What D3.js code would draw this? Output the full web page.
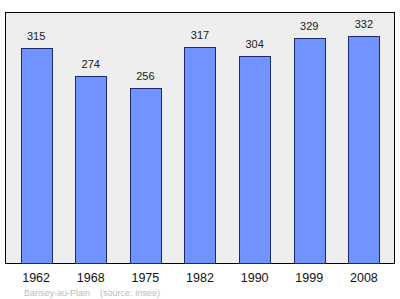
<!DOCTYPE html>
<html>
<head>
<meta charset="utf-8">
<script src="https://cdn.jsdelivr.net/npm/d3@7"></script>
<style>
  body { margin: 0; background: #fff; }
  text { font-family: "Liberation Sans", Arial, sans-serif; }
</style>
</head>
<body>
<div id="graphic"></div>
<script>
// population per census year
var years = ["1962", "1968", "1975", "1982", "1990", "1999", "2008"];
var population = [315, 274, 256, 317, 304, 329, 332];
var sourceText = "Barisey-au-Plain    (source: Insee)";

var width = 400, height = 299;
var plot = { left: 5.5, top: 12.5, right: 394.5, bottom: 263.5 };

var svg = d3.select("#graphic").append("svg")
  .attr("width", width)
  .attr("height", height);

// frame / background
svg.append("rect")
  .attr("x", plot.left)
  .attr("y", plot.top)
  .attr("width", plot.right - plot.left)
  .attr("height", plot.bottom - plot.top)
  .attr("fill", "#eeeeee")
  .attr("stroke", "#000")
  .attr("stroke-width", 1);

var x = d3.scaleBand()
  .domain(years)
  .range([plot.left + 3, plot.right - 3])
  .paddingInner(0.43)
  .paddingOuter(0.22);

var y = d3.scaleLinear()
  .domain([0, 367])
  .range([plot.bottom, plot.top]);

svg.selectAll(".bar")
  .data(population)
  .enter().append("rect")
  .attr("class", "bar")
  .attr("x", function (d, i) { return Math.round(x(years[i])) + 0.5; })
  .attr("y", function (d) { return Math.round(y(d)) + 0.5; })
  .attr("width", Math.round(x.bandwidth()))
  .attr("height", function (d) { return plot.bottom - Math.round(y(d)) - 0.5; })
  .attr("fill", "#7093ff")
  .attr("stroke", "#1a2a6a")
  .attr("stroke-width", 1);

// value labels
svg.selectAll(".val")
  .data(population)
  .enter().append("text")
  .attr("class", "val")
  .attr("x", function (d, i) { return x(years[i]) + x.bandwidth() / 2; })
  .attr("y", function (d) { return y(d) - 8; })
  .attr("text-anchor", "middle")
  .attr("font-size", 11)
  .attr("fill", "#222")
  .text(function (d) { return d; });

// x axis labels
var xAxis = svg.append("g")
  .attr("transform", "translate(0," + plot.bottom + ")")
  .call(d3.axisBottom(x).tickSize(0).tickPadding(10));
xAxis.select(".domain").remove();
xAxis.selectAll("text")
  .attr("font-size", 12.5)
  .attr("font-family", "Liberation Sans, Arial, sans-serif")
  .attr("fill", "#111");

svg.append("text")
  .attr("x", 24)
  .attr("y", 296)
  .attr("font-size", 9)
  .attr("fill", "#bbbbbb")
  .attr("xml:space", "preserve")
  .style("white-space", "pre")
  .text(sourceText);
</script>
</body>
</html>
